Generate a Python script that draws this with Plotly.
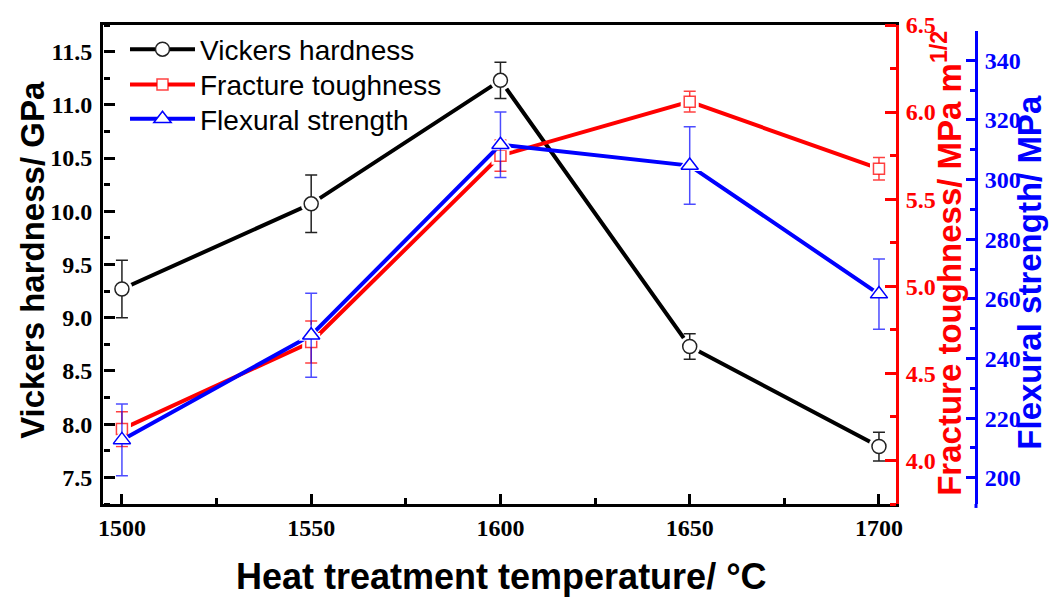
import plotly.graph_objects as go

# ---- data ----
temps = [1500, 1550, 1600, 1650, 1700]
hardness = [9.27, 10.07, 11.23, 8.73, 7.79]
hardness_err = [0.27, 0.27, 0.17, 0.12, 0.135]
toughness = [4.18, 4.68, 5.75, 6.06, 5.675]
toughness_err = [0.10, 0.12, 0.09, 0.06, 0.065]
strength = [212.7, 247.8, 311.7, 304.7, 261.6]
strength_err = [12.0, 14.1, 11.0, 13.0, 11.8]

x_ticks = [1500, 1550, 1600, 1650, 1700]
x_minor = [1525, 1575, 1625, 1675]
hv_ticks = [7.5, 8.0, 8.5, 9.0, 9.5, 10.0, 10.5, 11.0, 11.5]
hv_minor = [7.25, 7.75, 8.25, 8.75, 9.25, 9.75, 10.25, 10.75, 11.25, 11.75]
kic_ticks = [4.0, 4.5, 5.0, 5.5, 6.0, 6.5]
kic_minor = [3.75, 4.25, 4.75, 5.25, 5.75, 6.25]
fs_ticks = [200, 220, 240, 260, 280, 300, 320, 340]
fs_minor = [210, 230, 250, 270, 290, 310, 330]
names = ["Vickers hardness", "Fracture toughness", "Flexural strength"]

BLACK, RED, BLUE = "#000000", "#FF0000", "#0000FF"
TICKFONT = "Liberation Serif"
TITLEFONT = "Liberation Sans"

W_PAPER = 873.0
X_DOM = 793.0 / W_PAPER
X_RANGE = [1495, 1704.5]
HV_RANGE = [7.25, 11.75]
KIC_RANGE = [3.75, 6.5]
FS_RANGE = [191.2, 350]

fig = go.Figure()

series = [
    dict(y=hardness, err=hardness_err, ya="y", color=BLACK, mcolor="#222222", ecolor="#222222",
         symbol="circle", size=14, legend="legend", name=names[0]),
    dict(y=toughness, err=toughness_err, ya="y2", color=RED, mcolor="rgba(255,0,0,0.75)",
         ecolor="rgba(255,0,0,0.75)", symbol="square", size=11, legend="legend2", name=names[1]),
    dict(y=strength, err=strength_err, ya="y3", color=BLUE, mcolor=BLUE,
         ecolor="rgba(0,0,255,0.7)", symbol="triangle-up", size=15, legend="legend3", name=names[2]),
]

for s in series:
    fig.add_trace(go.Scatter(x=temps, y=s["y"], mode="lines", line=dict(color=s["color"], width=4),
                             xaxis="x", yaxis=s["ya"], showlegend=False, hoverinfo="skip"))
    fig.add_trace(go.Scatter(x=temps, y=s["y"], mode="markers",
                             marker=dict(symbol=s["symbol"], size=s["size"] + 7, color="white"),
                             xaxis="x", yaxis=s["ya"], showlegend=False, hoverinfo="skip"))
    fig.add_trace(go.Scatter(x=temps, y=s["y"], mode="markers", name=s["name"],
                             marker=dict(symbol=s["symbol"], size=s["size"], color="white",
                                         line=dict(color=s["mcolor"], width=1.5)),
                             error_y=dict(type="data", array=s["err"], color=s["ecolor"],
                                          thickness=1.5, width=6),
                             xaxis="x", yaxis=s["ya"], showlegend=False))
    fig.add_trace(go.Scatter(x=[None], y=[None], mode="lines+markers", name=s["name"],
                             legend=s["legend"], line=dict(color=s["color"], width=4),
                             marker=dict(symbol=s["symbol"], size=s["size"], color="white",
                                         line=dict(color=s["mcolor"], width=1.5)),
                             xaxis="x", yaxis=s["ya"], showlegend=True))

# empty helper traces so the tick-only axes get drawn
for xa, ya in [("x2", "y"), ("x3", "y"), ("x", "y4"), ("x", "y5"), ("x", "y6"),
               ("x", "y7"), ("x", "y8"), ("x", "y9")]:
    fig.add_trace(go.Scatter(x=[], y=[], xaxis=xa, yaxis=ya, showlegend=False, hoverinfo="skip"))

common = dict(showgrid=False, zeroline=False)


def legend_box(ypx):
    return dict(x=0.0252, y=(504 - ypx) / 489.0, xanchor="left", yanchor="middle",
                bgcolor="rgba(0,0,0,0)", borderwidth=0,
                font=dict(family=TITLEFONT, size=28, color=BLACK), itemwidth=65)


def tick_axis(rng, vals, length, color, **kw):
    # tick-only axis sitting on a frame edge; its "outside" ticks point into the plot
    d = dict(range=rng, tickmode="array", tickvals=vals, showticklabels=False, showline=False,
             ticks="outside", ticklen=length, tickwidth=3, tickcolor=color, anchor="free", **common)
    d.update(kw)
    return d


fig.update_layout(
    width=1051, height=597,
    margin=dict(l=103, r=75, t=15, b=93),
    paper_bgcolor="white", plot_bgcolor="rgba(0,0,0,0)",
    showlegend=True,
    legend=legend_box(40), legend2=legend_box(76), legend3=legend_box(111),
    xaxis=dict(range=X_RANGE, domain=[0, X_DOM], tickmode="array", tickvals=x_ticks,
               ticktext=[str(v) for v in x_ticks], showline=True, linewidth=3,
               linecolor=BLACK, mirror=True, ticks="",
               tickfont=dict(family=TICKFONT, size=24, color=BLACK, weight="bold"),
               **common),
    xaxis2=tick_axis(X_RANGE, x_minor, 6, BLACK, overlaying="x", side="top", position=0),
    xaxis3=tick_axis(X_RANGE, x_ticks, 10, BLACK, overlaying="x", side="top", position=0),
    yaxis=dict(range=HV_RANGE, tickmode="array", tickvals=hv_ticks,
               ticktext=[f"{v:.1f}" for v in hv_ticks],
               showline=True, linewidth=3, linecolor=BLACK, ticks="",
               ticklabelstandoff=3,
               tickfont=dict(family=TICKFONT, size=24, color=BLACK, weight="bold"),
               **common),
    yaxis4=tick_axis(HV_RANGE, hv_minor, 6, BLACK, overlaying="y", side="right", position=0),
    yaxis7=tick_axis(HV_RANGE, hv_ticks, 11, BLACK, overlaying="y", side="right", position=0),
    yaxis2=dict(range=KIC_RANGE, tickmode="array", tickvals=kic_ticks,
                ticktext=[f"{v:.1f}" for v in kic_ticks],
                overlaying="y", side="right", anchor="x", showline=True, linewidth=3,
                linecolor=RED, ticks="", ticklabelstandoff=2,
                tickfont=dict(family=TICKFONT, size=24, color=RED, weight="bold"),
                **common),
    yaxis5=tick_axis(KIC_RANGE, kic_minor, 6, RED, overlaying="y", side="left", position=X_DOM),
    yaxis8=tick_axis(KIC_RANGE, kic_ticks, 11, RED, overlaying="y", side="left", position=X_DOM),
    yaxis3=dict(range=FS_RANGE, tickmode="array", tickvals=fs_ticks,
                ticktext=[str(v) for v in fs_ticks], domain=[0, 0.9885],
                anchor="free", position=1.0, side="right", showline=True, linewidth=3,
                linecolor=BLUE, ticks="", ticklabelstandoff=2,
                tickfont=dict(family=TICKFONT, size=24, color=BLUE, weight="bold"),
                **common),
    yaxis6=tick_axis(FS_RANGE, fs_minor, 6, BLUE, overlaying="y3", side="left", position=1.0),
    yaxis9=tick_axis(FS_RANGE, fs_ticks, 10, BLUE, overlaying="y3", side="left", position=1.0),
)

# axis titles
fig.add_annotation(text="Vickers hardness/ GPa", xref="paper", yref="paper", x=-0.0802, y=0.5097,
                   textangle=-90, showarrow=False, xanchor="center", yanchor="middle",
                   font=dict(family=TITLEFONT, size=33, color=BLACK, weight="bold"))
fig.add_annotation(text="Heat treatment temperature/ °C", xref="paper", yref="paper", x=0.4559, y=-0.1513,
                   showarrow=False, xanchor="center", yanchor="middle",
                   font=dict(family=TITLEFONT, size=36, color=BLACK, weight="bold"))
fig.add_annotation(text="Fracture toughness/ MPa m<sup>1/2</sup>", xref="paper", yref="paper", x=0.9668, y=0.5015,
                   textangle=-90, showarrow=False, xanchor="center", yanchor="middle",
                   font=dict(family=TITLEFONT, size=33, color=RED, weight="bold"))
fig.add_annotation(text="Flexural strength/ MPa", xref="paper", yref="paper", x=1.0619, y=0.483,
                   textangle=-90, showarrow=False, xanchor="center", yanchor="middle",
                   font=dict(family=TITLEFONT, size=33, color=BLUE, weight="bold"))

# small extension of the blue axis line below the frame
fig.add_shape(type="line", xref="paper", yref="paper", x0=1.0, x1=1.0, y0=0, y1=-0.0082,
              line=dict(color=BLUE, width=3))

fig.write_html("out.html")
